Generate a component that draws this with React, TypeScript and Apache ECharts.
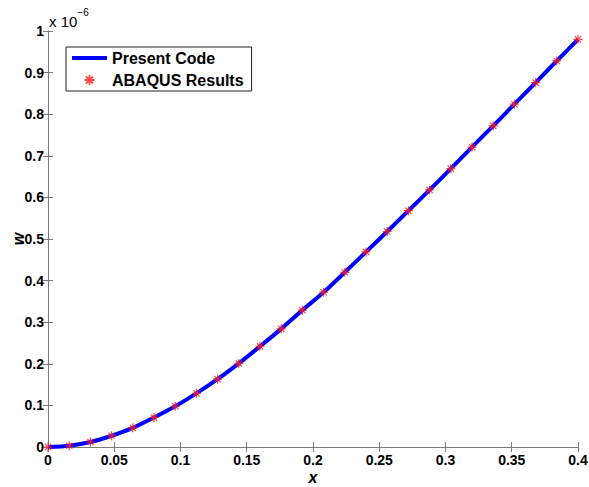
import React, { useEffect, useRef } from "react";
import * as echarts from "echarts";

const xValues = [0, 0.016, 0.032, 0.048, 0.064, 0.08, 0.096, 0.112, 0.128, 0.144, 0.16, 0.176, 0.192, 0.208, 0.224, 0.24, 0.256, 0.272, 0.288, 0.304, 0.32, 0.336, 0.352, 0.368, 0.384, 0.4];
const presentCode = [0, 0.003, 0.012, 0.027, 0.046, 0.071, 0.098, 0.129, 0.163, 0.201, 0.242, 0.284, 0.329, 0.372, 0.42, 0.469, 0.518, 0.568, 0.618, 0.669, 0.721, 0.772, 0.824, 0.876, 0.928, 0.98];
const abaqus = [0, 0.003, 0.012, 0.027, 0.046, 0.071, 0.098, 0.129, 0.163, 0.201, 0.242, 0.284, 0.329, 0.372, 0.42, 0.469, 0.518, 0.568, 0.618, 0.669, 0.721, 0.772, 0.824, 0.876, 0.928, 0.98];
const xTicks = [0, 0.05, 0.1, 0.15, 0.2, 0.25, 0.3, 0.35, 0.4];
const yTicks = [0, 0.1, 0.2, 0.3, 0.4, 0.5, 0.6, 0.7, 0.8, 0.9, 1];

const FONT = "Liberation Sans, Arial, sans-serif";
const AXIS_COLOR = "#7a7a7a";
const STAR = "path://M5,0L5,10M0,5L10,5M1.5,1.5L8.5,8.5M1.5,8.5L8.5,1.5";
const BAR_ICON = "path://M0,0L35,0L35,4L0,4Z";

export default function App() {
  const ref = useRef<HTMLDivElement>(null);
  useEffect(() => {
    document.body.style.margin = "0";
    const chart = echarts.init(ref.current!, null, { renderer: "svg" });
    const fmt = (v: number) => String(+v.toFixed(2));
    const labelStyle = { color: "#000", fontFamily: FONT, fontWeight: "bold" as const, fontSize: 14 };
    const xAxisBase = {
      type: "value" as const,
      min: xTicks[0],
      max: xTicks[xTicks.length - 1],
      interval: 0.05,
      splitLine: { show: false },
      axisLine: { show: true, lineStyle: { color: AXIS_COLOR, width: 1 } },
      axisTick: { show: true, inside: true, length: 5, lineStyle: { color: AXIS_COLOR } },
    };
    const yAxisBase = {
      type: "value" as const,
      min: yTicks[0],
      max: yTicks[yTicks.length - 1],
      interval: 0.1,
      splitLine: { show: false },
      axisLine: { show: true, lineStyle: { color: AXIS_COLOR, width: 1 } },
      axisTick: { show: true, inside: true, length: 5, lineStyle: { color: AXIS_COLOR } },
    };
    chart.setOption({
      animation: false,
      backgroundColor: "#fff",
      grid: { left: 48, right: 11, top: 31, bottom: 40, containLabel: false, outerBoundsMode: "none" },
      xAxis: [
        {
          ...xAxisBase,
          position: "bottom",
          name: "x",
          nameLocation: "middle",
          nameGap: 22,
          nameMoveOverlap: false,
          nameTextStyle: { ...labelStyle, fontSize: 16, fontStyle: "italic" },
          axisLabel: { ...labelStyle, margin: 6, formatter: fmt, showMinLabel: true, showMaxLabel: true },
        },
        { ...xAxisBase, position: "top", axisLabel: { show: false } },
      ],
      yAxis: [
        {
          ...yAxisBase,
          position: "left",
          name: "w",
          nameLocation: "middle",
          nameGap: 22,
          nameMoveOverlap: false,
          nameRotate: 90,
          nameTextStyle: { ...labelStyle, fontSize: 16, fontStyle: "italic" },
          axisLabel: { ...labelStyle, margin: 4, formatter: fmt, showMinLabel: true, showMaxLabel: true },
        },
        { ...yAxisBase, position: "right", axisLabel: { show: false } },
      ],
      legend: {
        left: 66,
        top: 47,
        orient: "vertical",
        itemGap: 4,
        itemWidth: 35,
        itemHeight: 10,
        padding: [2, 8, 2, 6],
        borderColor: "#222",
        borderWidth: 1,
        backgroundColor: "#fff",
        textStyle: { ...labelStyle, fontSize: 16, lineHeight: 18 },
        data: [
          { name: "Present Code", icon: BAR_ICON },
          { name: "ABAQUS Results", icon: STAR },
        ],
      },
      graphic: [
        {
          type: "text",
          left: 49,
          top: 7,
          style: {
            text: "{a|x 10}{b|−6}",
            rich: {
              a: { fontFamily: FONT, fontSize: 15, fill: "#000", verticalAlign: "bottom", lineHeight: 22 },
              b: { fontFamily: FONT, fontSize: 10, fill: "#000", verticalAlign: "top", lineHeight: 14 },
            },
          },
        },
      ],
      series: [
        {
          name: "Present Code",
          type: "line",
          data: xValues.map((x, i) => [x, presentCode[i]]),
          smooth: 0.3,
          symbol: "none",
          lineStyle: { color: "#0000ff", width: 4 },
          itemStyle: { color: "#0000ff" },
          z: 2,
        },
        {
          name: "ABAQUS Results",
          type: "scatter",
          data: xValues.map((x, i) => [x, abaqus[i]]),
          symbol: STAR,
          symbolSize: 9,
          itemStyle: { color: "none", borderColor: "#ff2020", borderWidth: 1.2 },
          z: 3,
        },
      ],
    });
    return () => chart.dispose();
  }, []);
  return <div ref={ref} style={{ width: 589, height: 487 }} />;
}
